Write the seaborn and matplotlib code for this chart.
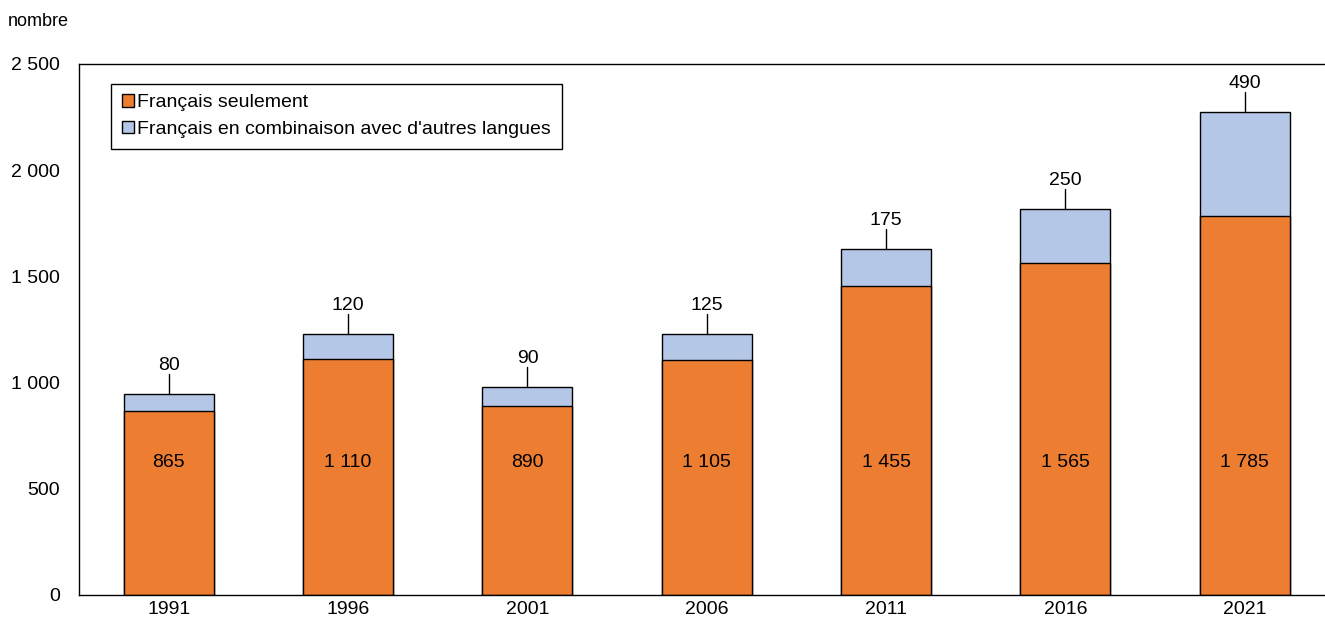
import numpy as np
import pandas as pd
import matplotlib
matplotlib.use('Agg')
import matplotlib.pyplot as plt
import seaborn as sns
from matplotlib.patches import Patch

# Data
years = ['1991', '1996', '2001', '2006', '2011', '2016', '2021']
francais_seul = [865, 1110, 890, 1105, 1455, 1565, 1785]
francais_combi = [80, 120, 90, 125, 175, 250, 490]
yticks = [0, 500, 1000, 1500, 2000, 2500]
ytick_labels = ['0', '500', '1 000', '1 500', '2 000', '2 500']

ORANGE = '#ED7D31'
BLUE = '#B4C7E7'


def fmt(v):
    return f"{v:,}".replace(',', ' ')


df = pd.DataFrame({'annee': years, 'seul': francais_seul, 'combi': francais_combi})
df['total'] = df['seul'] + df['combi']

sns.set_style('white')
plt.rcParams['font.family'] = ['Liberation Sans', 'DejaVu Sans']
plt.rcParams['text.color'] = 'black'
plt.rcParams['xtick.color'] = 'black'
plt.rcParams['ytick.color'] = 'black'

fig = plt.figure(figsize=(13.25, 6.21), dpi=100)
# axes runs slightly past the right edge, like the original
ax = fig.add_axes([0.0598, 0.0419, 0.9472, 0.8551])

sns.barplot(data=df, x='annee', y='total', color=BLUE, width=0.502,
            edgecolor='black', linewidth=1, saturation=1, ax=ax)
sns.barplot(data=df, x='annee', y='seul', color=ORANGE, width=0.502,
            edgecolor='black', linewidth=1, saturation=1, ax=ax)

# labels
for i, row in df.iterrows():
    ax.text(i, 625, fmt(row['seul']), ha='center', va='center', fontsize=14)
    ax.plot([i, i], [row['total'], row['total'] + 95], color='black', lw=1)
    ax.text(i, row['total'] + 135, fmt(row['combi']), ha='center', va='center', fontsize=14)

ax.set_xlim(-0.5, 6.5)
ax.set_ylim(0, 2500)
ax.set_yticks(yticks)
ax.set_yticklabels(ytick_labels, fontsize=14)
ax.tick_params(axis='x', labelsize=14, length=0, pad=4)
ax.tick_params(axis='y', length=0, pad=14)
ax.set_xlabel('')
ax.set_ylabel('')
for s in ax.spines.values():
    s.set_visible(True)
    s.set_color('black')
    s.set_linewidth(1)

fig.text(0.006, 0.965, 'nombre', fontsize=13, ha='left', va='center')

handles = [Patch(facecolor=ORANGE, edgecolor='black', label='Français seulement'),
           Patch(facecolor=BLUE, edgecolor='black', label="Français en combinaison avec d'autres langues")]
leg = ax.legend(handles=handles, loc='upper left', bbox_to_anchor=(0.0255, 0.963),
                fontsize=14, frameon=True, fancybox=False, edgecolor='black',
                framealpha=1, handlelength=0.6, handleheight=0.6, handletextpad=0.2,
                borderpad=0.55, labelspacing=0.5, borderaxespad=0)
leg.get_frame().set_linewidth(1)

fig.savefig('out.png', dpi=100)
